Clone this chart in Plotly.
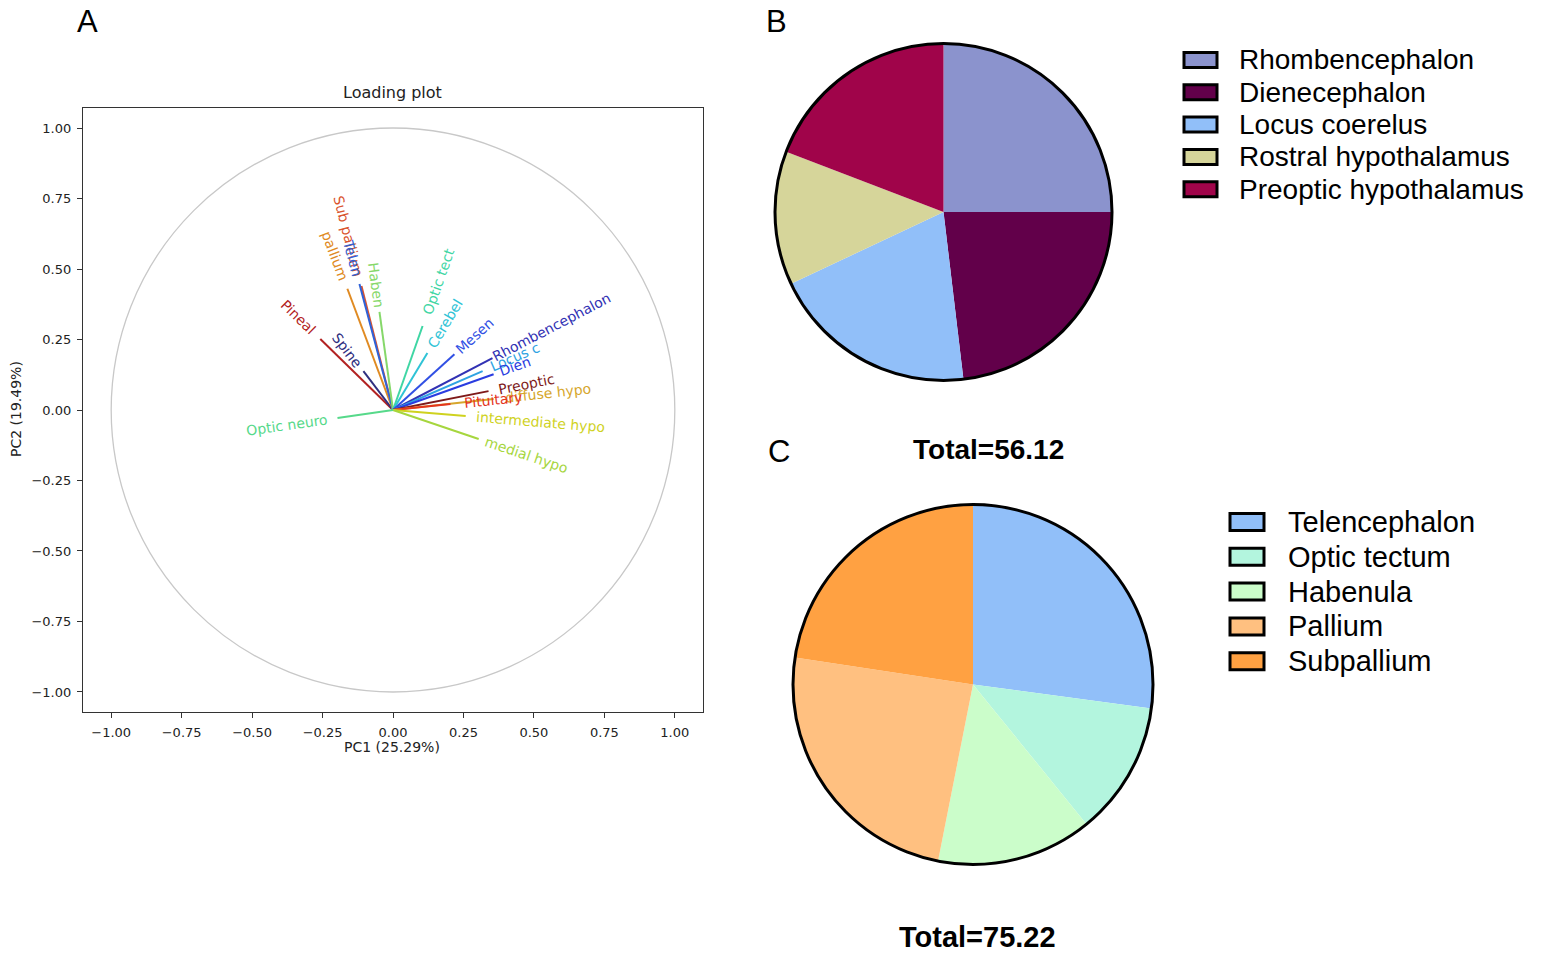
import math
import plotly.graph_objects as go

# body margin removed via post_script below, so the figure fills the window
OFF = 0
W, H = 1543, 957

# ---------------- Panel A data: loading vectors ----------------
vec_names = ["Pineal", "Spine", "Sub pallium", "pallium", "Telen", "Haben",
             "Optic tect", "Cerebel", "Mesen", "Rhombencephalon", "Locus c",
             "Dien", "Preoptic", "diffuse hypo", "Pituitary",
             "intermediate hypo", "medial hypo", "Optic neuro"]
pc1 = [-0.258, -0.105, -0.112, -0.162, -0.119, -0.048, 0.105, 0.122, 0.218,
       0.353, 0.318, 0.357, 0.339, 0.357, 0.204, 0.258, 0.304, -0.197]
pc2 = [0.252, 0.138, 0.440, 0.430, 0.447, 0.348, 0.298, 0.202, 0.198,
       0.184, 0.138, 0.127, 0.067, 0.039, 0.021, -0.021, -0.103, -0.028]
vec_colors = ["#b22222", "#2f2f7f", "#d9532e", "#e08a22", "#2f62d8", "#86d86a",
              "#3fd6a4", "#2fc3d6", "#3150e4", "#3232b4", "#2fa3e2",
              "#2a3ce0", "#7e1a1a", "#d6a62c", "#e4341e",
              "#cfd21e", "#a6d63e", "#56d98a"]

# ---------------- Panel B data ----------------
b_labels = ["Rhombencephalon", "Dienecephalon", "Locus coerelus",
            "Rostral hypothalamus", "Preoptic hypothalamus"]
b_values = [14.03, 12.97, 11.16, 7.20, 10.76]
b_colors = ["#8b93cd", "#62004a", "#91bff9", "#d6d59a", "#a0044a"]
b_total_text = "Total=56.12"

# ---------------- Panel C data ----------------
c_labels = ["Telencephalon", "Optic tectum", "Habenula", "Pallium", "Subpallium"]
c_values = [20.41, 9.03, 10.51, 18.26, 17.01]
c_colors = ["#91bff9", "#b3f5de", "#cbfdca", "#ffc080", "#ffa142"]
c_total_text = "Total=75.22"

x_ticks = [-1.0, -0.75, -0.5, -0.25, 0.0, 0.25, 0.5, 0.75, 1.0]
y_ticks = [-1.0, -0.75, -0.5, -0.25, 0.0, 0.25, 0.5, 0.75, 1.0]

# ---------------- helpers (screen px -> paper) ----------------
def px_x(p):
    return (p - OFF) / W

def px_y(p):
    return 1 - (p - OFF) / H

fig = go.Figure()

A_L, A_R, A_T, A_B = 83, 703, 108, 712
XR = [-1.1, 1.1]
YR = [-1.071, 1.071]
scale = (A_R - A_L) / (XR[1] - XR[0])  # px per data unit

annotations = []
shapes = []

# unit circle
shapes.append(dict(type="circle", xref="x", yref="y", x0=-1, y0=-1, x1=1, y1=1,
                   line=dict(color="#c8c8c8", width=1.3), layer="below"))

LBL_FS = 14
for name, x, y, col in zip(vec_names, pc1, pc2, vec_colors):
    fig.add_trace(go.Scatter(x=[0, x], y=[0, y], mode="lines",
                             line=dict(color=col, width=2),
                             showlegend=False, hoverinfo="text", text=name,
                             xaxis="x", yaxis="y"))
    L = math.hypot(x, y)
    ux, uy = x / L, y / L
    half_w = len(name) * 0.57 * LBL_FS / 2
    d = L + (7 + half_w) / scale
    ang = math.degrees(math.atan(y / x))
    annotations.append(dict(x=ux * d, y=uy * d, xref="x", yref="y", text=name,
                            showarrow=False, textangle=-ang,
                            xanchor="center", yanchor="middle",
                            font=dict(family="DejaVu Sans", size=LBL_FS, color=col)))

def paper_text(text, cx, cy, size, family, angle=0, color="#222"):
    annotations.append(dict(x=px_x(cx), y=px_y(cy), xref="paper", yref="paper",
                            text=text, showarrow=False, textangle=angle,
                            xanchor="center", yanchor="middle",
                            font=dict(family=family, size=size, color=color)))

# axis titles and plot title
paper_text("Loading plot", 392, 93, 16, "DejaVu Sans")
paper_text("PC1 (25.29%)", 392, 747, 14, "DejaVu Sans")
paper_text("PC2 (19.49%)", 16, 409, 14, "DejaVu Sans", angle=-90)

# panel letters
for letter, cx, cy in [("A", 87, 21), ("B", 776, 21), ("C", 779, 451)]:
    paper_text(letter, cx, cy, 31, "Liberation Sans, Arial", color="#000")

# ---------------- pies ----------------
def add_pie(labels, values, colors, cx, cy, r, name):
    fig.add_trace(go.Pie(labels=labels, values=values, name=name,
                         marker=dict(colors=colors, line=dict(width=0)),
                         sort=False, direction="clockwise", rotation=0,
                         textinfo="none", showlegend=False,
                         domain=dict(x=[px_x(cx - r), px_x(cx + r)],
                                     y=[px_y(cy + r), px_y(cy - r)])))
    shapes.append(dict(type="circle", xref="paper", yref="paper",
                       x0=px_x(cx - r), x1=px_x(cx + r),
                       y0=px_y(cy + r), y1=px_y(cy - r),
                       line=dict(color="#000", width=3), layer="above"))

add_pie(b_labels, b_values, b_colors, 943.5, 212, 168.5, "B")
add_pie(c_labels, c_values, c_colors, 973, 684.5, 180, "C")

paper_text("<b>" + b_total_text + "</b>", 988, 449, 28, "Liberation Sans, Arial", color="#000")
paper_text("<b>" + c_total_text + "</b>", 977, 937, 29, "Liberation Sans, Arial", color="#000")

# ---------------- manual legends ----------------
def add_legend(labels, colors, sx0, sx1, sh, tx, y0, dy, fs):
    for i, (lab, col) in enumerate(zip(labels, colors)):
        yc = y0 + i * dy
        shapes.append(dict(type="rect", xref="paper", yref="paper",
                           x0=px_x(sx0), x1=px_x(sx1),
                           y0=px_y(yc + sh / 2), y1=px_y(yc - sh / 2),
                           fillcolor=col, line=dict(color="#000", width=3)))
        annotations.append(dict(x=px_x(tx), y=px_y(yc), xref="paper", yref="paper",
                                text=lab, showarrow=False, xanchor="left",
                                yanchor="middle",
                                font=dict(family="Liberation Sans, Arial", size=fs,
                                          color="#000")))

add_legend(b_labels, b_colors, 1184, 1217, 15, 1237, 60, 32.3, 28)
add_legend(c_labels, c_colors, 1230, 1264, 17, 1286, 522, 34.8, 29)

axis_common = dict(showline=True, mirror=True, linecolor="#333", linewidth=1.2,
                   ticks="outside", ticklen=5, tickcolor="#333", showgrid=False,
                   zeroline=False, tickformat=".2f", ticklabelstandoff=3,
                   tickfont=dict(family="DejaVu Sans", size=13, color="#222"))

fig.update_layout(
    width=W, height=H,
    margin=dict(l=0, r=0, t=0, b=0),
    paper_bgcolor="white", plot_bgcolor="white",
    xaxis=dict(domain=[px_x(A_L), px_x(A_R)], range=XR, tickvals=x_ticks,
               automargin=False, **axis_common),
    yaxis=dict(domain=[px_y(A_B), px_y(A_T)], range=YR, tickvals=y_ticks,
               automargin=False, **axis_common),
    annotations=annotations,
    shapes=shapes,
    showlegend=False,
)

fig.write_html("out.html", config={"displayModeBar": False},
               post_script="document.body.style.margin='0';document.body.style.overflow='hidden';")
